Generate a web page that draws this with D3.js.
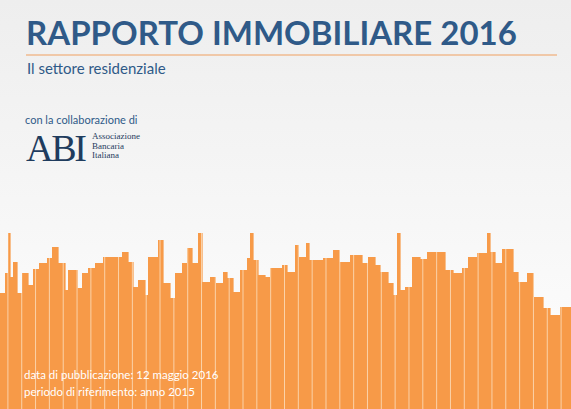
<!DOCTYPE html><html><head><meta charset="utf-8">
<script src="https://cdn.jsdelivr.net/npm/d3@7"></script>
<style>body{margin:0}svg{display:block}</style></head><body>
<svg id="c" width="571" height="409"></svg>
<script>
const buildingWidths=[5,3,2,3,4,5,6,5,6,8,5,6,7,3,9,5,6,7,8,19,6,5,5,7,3,10,5,7,5,7,5,5,6,4,8,5,8,4,6,7,7,3,3,5,7,5,12,5,
8,3,8,3,14,10,6,11,12,6,7,5,8,5,4,3,5,7,8,7,18,8,9,6,9,10,3,5,7,11,5,9,6,10,7,10,11];
const buildingHeights=[116,136,176,132,147,116,136,124,140,146,151,162,146,119,139,121,136,141,146,152,157,147,122,129,114,152,169,126,111,136,146,161,146,176,127,132,126,137,131,117,139,151,176,149,134,132,141,144,
137,164,152,166,149,151,159,147,154,146,152,144,137,126,114,176,119,122,152,150,157,139,136,141,152,156,176,157,146,160,137,127,136,112,101,94,102];
const stripeCount=41;
const svg=d3.select("#c"),W=571,H=409;
const defs=svg.append("defs");
const g=defs.append("linearGradient").attr("id","bg").attr("x1",0).attr("y1",0).attr("x2",0).attr("y2",1);
g.append("stop").attr("offset","0").attr("stop-color","#eeeeee");
g.append("stop").attr("offset","0.55").attr("stop-color","#f7f7f7");
g.append("stop").attr("offset","1").attr("stop-color","#ffffff");
svg.append("rect").attr("width",W).attr("height",H).attr("fill","url(#bg)");
const total=d3.sum(buildingWidths);
const x=d3.scaleLinear().domain([0,total]).range([0,W]);
const y=d3.scaleLinear().domain([0,H]).range([H,0]);
const starts=d3.cumsum([0,...buildingWidths]);
const bx=(d,i)=>x(starts[i]), bw=(d,i)=>x(starts[i]+buildingWidths[i])-x(starts[i])+0.6;
const cp=defs.append("clipPath").attr("id","sky");
cp.selectAll("rect").data(buildingHeights).join("rect").attr("x",bx).attr("width",bw).attr("y",d=>y(d)).attr("height",d=>H-y(d));
svg.append("g").selectAll("rect").data(buildingHeights).join("rect")
 .attr("x",bx).attr("width",bw).attr("y",d=>y(d)).attr("height",d=>H-y(d)).attr("fill","#f79a48");
const sx=d3.scaleLinear().domain([0,stripeCount]).range([7.9,7.9+13.83*stripeCount]);
svg.append("g").attr("clip-path","url(#sky)").selectAll("line").data(d3.range(stripeCount)).join("line")
 .attr("x1",d=>sx(d)).attr("x2",d=>sx(d)).attr("y1",230).attr("y2",H)
 .attr("stroke","#fbd2a8").attr("stroke-width",1);
svg.append("text").attr("x",26).attr("y",45).attr("font-family","Lato").attr("font-weight","bold")
 .attr("font-size",33).attr("fill","#2f5a88").text("RAPPORTO IMMOBILIARE 2016");
svg.append("line").attr("x1",26).attr("x2",557).attr("y1",55).attr("y2",55).attr("stroke","#f0a060").attr("stroke-width",1.2);
svg.append("text").attr("x",27).attr("y",74).attr("font-family","Lato").attr("font-size",15).attr("fill","#2f5a88").text("Il settore residenziale");
svg.append("text").attr("x",25).attr("y",124).attr("font-family","Lato").attr("font-size",11).attr("fill","#2f5a88").text("con la collaborazione di");
svg.append("text").attr("x",26).attr("y",161).attr("font-family","Liberation Serif").attr("font-size",38).attr("fill","#1f3c5e").attr("textLength",61).text("ABI");
["Associazione","Bancaria","Italiana"].forEach((t,i)=>svg.append("text").attr("x",92).attr("y",139+i*9.5)
 .attr("font-family","Liberation Serif").attr("font-size",9).attr("fill","#1f3c5e").text(t));
svg.append("text").attr("x",24).attr("y",379).attr("font-family","Lato").attr("font-size",11.5).attr("fill","#fff").text("data di pubblicazione: 12 maggio 2016");
svg.append("text").attr("x",24).attr("y",396).attr("font-family","Lato").attr("font-size",11.5).attr("fill","#fff").text("periodo di riferimento: anno 2015");
</script></body></html>
